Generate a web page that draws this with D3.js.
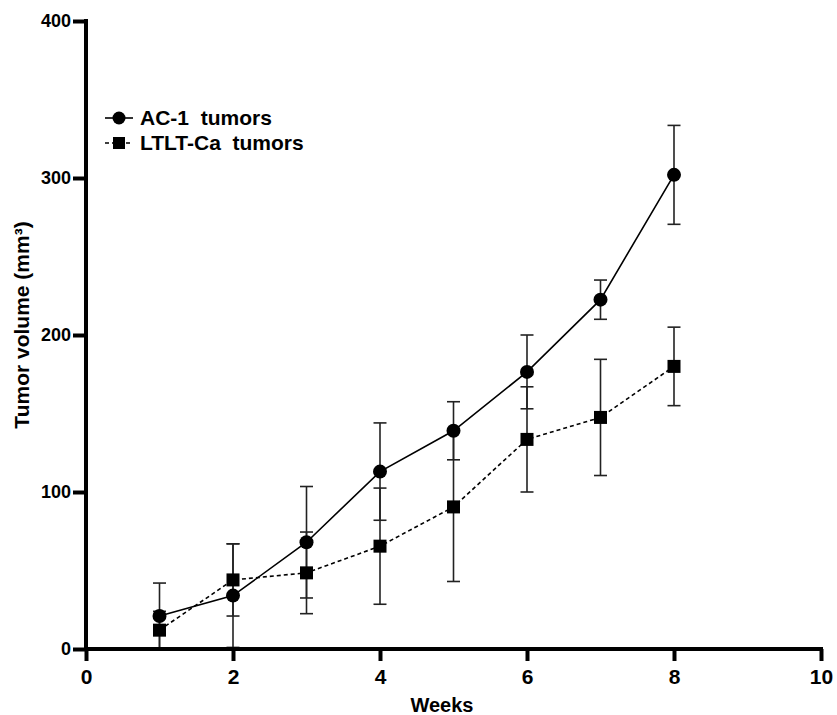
<!DOCTYPE html>
<html>
<head>
<meta charset="utf-8">
<script src="https://cdn.jsdelivr.net/npm/d3@7/dist/d3.min.js"></script>
<style>
  body { margin: 0; background: #fff; }
  text { font-family: Arial, "Liberation Sans", sans-serif; font-weight: bold; fill: #000; }
</style>
</head>
<body>
<div id="chart"></div>
<script>
"use strict";

// == DATA ==
var weeks = [1, 2, 3, 4, 5, 6, 7, 8];
var ac1Mean = [21, 34, 68, 113, 139, 176.5, 222.5, 302];
var ac1Err = [21, 33, 35.5, 31, 18.5, 23.5, 12.5, 31.5];
var ltltMean = [12, 44, 48.5, 65.5, 90.5, 133.5, 147.5, 180];
var ltltErr = [12, 23, 26, 37, 47.5, 33.5, 37, 25];
var seriesNames = ["AC-1  tumors", "LTLT-Ca  tumors"];
var xTicks = [0, 2, 4, 6, 8, 10];
var yTicks = [0, 100, 200, 300, 400];

var width = 837, height = 715;
var margin = { top: 21, right: 16, bottom: 66, left: 86 };

var svg = d3.select("#chart")
            .append("svg")
            .attr("width", width)
            .attr("height", height);

var x = d3.scaleLinear().domain([0, 10]).range([margin.left, width - margin.right]);
var y = d3.scaleLinear().domain([0, 400]).range([height - margin.bottom, margin.top]);

var series = [
  { name: seriesNames[0], mean: ac1Mean, err: ac1Err, shape: "circle", dash: null },
  { name: seriesNames[1], mean: ltltMean, err: ltltErr, shape: "square", dash: "4,3" }
];

// error bars
series.forEach(function(s) {
  var g = svg.append("g");
  weeks.forEach(function(w, i) {
    var top = y(s.mean[i] + s.err[i]), bot = y(Math.max(0, s.mean[i] - s.err[i]));
    g.append("line").attr("x1", x(w)).attr("x2", x(w)).attr("y1", top).attr("y2", bot)
      .attr("stroke", "#222").attr("stroke-width", 1.6);
    g.append("line").attr("x1", x(w) - 6.5).attr("x2", x(w) + 6.5).attr("y1", top).attr("y2", top)
      .attr("stroke", "#222").attr("stroke-width", 1.6);
    g.append("line").attr("x1", x(w) - 6.5).attr("x2", x(w) + 6.5).attr("y1", bot).attr("y2", bot)
      .attr("stroke", "#222").attr("stroke-width", 1.6);
  });
});

// lines + markers
var line = d3.line().x(function(d) { return x(d[0]); }).y(function(d) { return y(d[1]); });
series.forEach(function(s) {
  var pts = weeks.map(function(w, i) { return [w, s.mean[i]]; });
  svg.append("path")
     .attr("d", line(pts))
     .attr("fill", "none")
     .attr("stroke", "#000")
     .attr("stroke-width", 1.6)
     .attr("stroke-dasharray", s.dash);
  pts.forEach(function(p) {
    if (s.shape === "circle") {
      svg.append("circle").attr("cx", x(p[0])).attr("cy", y(p[1])).attr("r", 7).attr("fill", "#000");
    } else {
      svg.append("rect").attr("x", x(p[0]) - 6.5).attr("y", y(p[1]) - 6.5)
         .attr("width", 13).attr("height", 13).attr("fill", "#000");
    }
  });
});

// axes
var xAxis = svg.append("g")
    .attr("transform", "translate(0," + y(0) + ")")
    .call(d3.axisBottom(x).tickValues(xTicks).tickSize(12).tickPadding(8).tickSizeOuter(0));
xAxis.select(".domain").attr("stroke-width", 4).attr("d", "M" + (x(0) - 2) + ",0H" + (x(10) + 2));
xAxis.selectAll(".tick line").attr("stroke-width", 4);
xAxis.selectAll(".tick text").style("font-size", "21px");

var yAxis = svg.append("g")
    .attr("transform", "translate(" + x(0) + ",0)")
    .call(d3.axisLeft(y).tickValues(yTicks).tickSize(13).tickPadding(2).tickSizeOuter(0));
yAxis.select(".domain").attr("stroke-width", 4).attr("d", "M0," + (y(400) - 2) + "V" + (y(0) + 2));
yAxis.selectAll(".tick line").attr("stroke-width", 4);
yAxis.selectAll(".tick text").style("font-size", "18px");

// axis titles
svg.append("text")
   .attr("x", 442)
   .attr("y", 712)
   .attr("text-anchor", "middle")
   .style("font-size", "20px")
   .text("Weeks");

svg.append("text")
   .attr("transform", "translate(29,325) rotate(-90)")
   .attr("text-anchor", "middle")
   .style("font-size", "21px")
   .text("Tumor volume (mm\u00b3)");

// legend
var legend = svg.append("g").attr("transform", "translate(105,118)");
series.forEach(function(s, i) {
  var row = legend.append("g").attr("transform", "translate(0," + (i * 25) + ")");
  row.append("line").attr("x1", 0).attr("x2", 28).attr("y1", 0).attr("y2", 0)
     .attr("stroke", "#000").attr("stroke-width", 1.6).attr("stroke-dasharray", s.dash);
  if (s.shape === "circle") {
    row.append("circle").attr("cx", 14).attr("cy", 0).attr("r", 6.5).attr("fill", "#000");
  } else {
    row.append("rect").attr("x", 8).attr("y", -6).attr("width", 12).attr("height", 12).attr("fill", "#000");
  }
  row.append("text").attr("x", 35).attr("y", 7)
     .style("font-size", "21px").style("white-space", "pre")
     .text(s.name);
});
</script>
</body>
</html>
